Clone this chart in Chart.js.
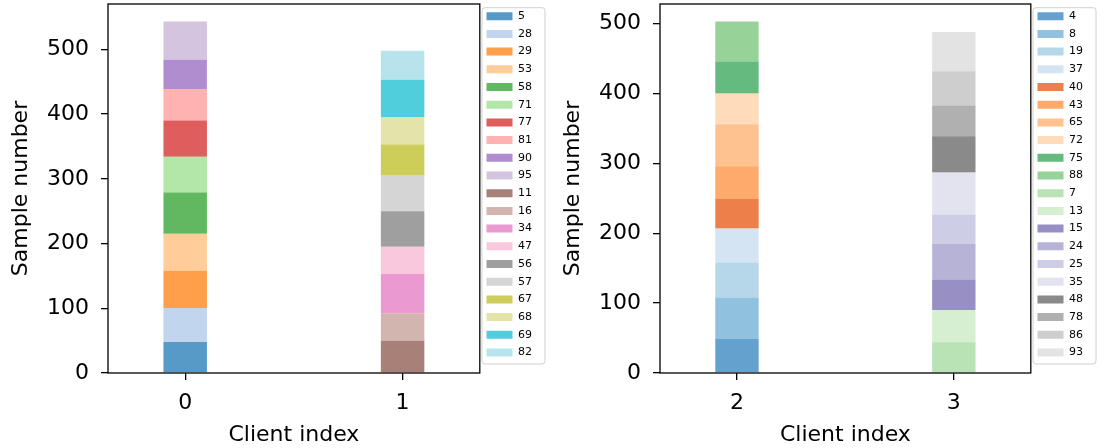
<!DOCTYPE html>
<html>
<head>
<meta charset="utf-8">
<script src="https://cdn.jsdelivr.net/npm/chart.js@4/dist/chart.umd.min.js"></script>
<style>
  body { margin: 0; background: #fff; }
  canvas { position: absolute; top: 0; }
  #left { left: 0; }
  #right { left: 550px; }
</style>
</head>
<body>
<canvas id="left" width="550" height="448"></canvas>
<canvas id="right" width="551" height="448"></canvas>
<script>
// samples per class, one pair of arrays per client
const client0Classes = ['5', '28', '29', '53', '58', '71', '77', '81', '90', '95'];
const client0Counts = [48, 52, 58, 57, 64, 55, 56, 49, 45, 59];
const client1Classes = ['11', '16', '34', '47', '56', '57', '67', '68', '69', '82'];
const client1Counts = [50, 42, 61, 42, 55, 55, 48, 42, 58, 45];
const client2Classes = ['4', '8', '19', '37', '40', '43', '65', '72', '75', '88'];
const client2Counts = [49, 59, 50, 49, 42, 47, 60, 44, 46, 57];
const client3Classes = ['7', '13', '15', '24', '25', '35', '48', '78', '86', '93'];
const client3Counts = [44, 46, 44, 51, 42, 60, 52, 44, 49, 56];
const yTicks = [0, 100, 200, 300, 400, 500];

// matplotlib tab20 / tab20c
const tab20 = ['#1f77b4', '#aec7e8', '#ff7f0e', '#ffbb78', '#2ca02c', '#98df8a', '#d62728', '#ff9896',
    '#9467bd', '#c5b0d5', '#8c564b', '#c49c94', '#e377c2', '#f7b6d2', '#7f7f7f', '#c7c7c7',
    '#bcbd22', '#dbdb8d', '#17becf', '#9edae5'];
const tab20c = ['#3182bd', '#6baed6', '#9ecae1', '#c6dbef', '#e6550d', '#fd8d3c', '#fdae6b', '#fdd0a2',
    '#31a354', '#74c476', '#a1d99b', '#c7e9c0', '#756bb1', '#9e9ac8', '#bcbddc', '#dadaeb',
    '#636363', '#969696', '#bdbdbd', '#d9d9d9'];

Chart.defaults.font.family = "'DejaVu Sans', sans-serif";
Chart.defaults.color = '#000';

function rgba(hex, a) {
    const n = parseInt(hex.slice(1), 16);
    return 'rgba(' + (n >> 16) + ',' + ((n >> 8) & 255) + ',' + (n & 255) + ',' + a + ')';
}

function sum(arr) {
    return arr.reduce((a, b) => a + b, 0);
}

// box around the plot area + legend frame
const framePlugin = {
    id: 'frame',
    afterDatasetsDraw(chart) {
        const a = chart.chartArea, ctx = chart.ctx;
        ctx.save();
        ctx.strokeStyle = '#000';
        ctx.lineWidth = 1.3;
        ctx.strokeRect(a.left, a.top, a.right - a.left, a.bottom - a.top);
        ctx.restore();
    },
    afterDraw(chart) {
        const hb = chart.legend.legendHitBoxes;
        if (!hb || !hb.length) return;
        const ctx = chart.ctx;
        const x0 = hb[0].left - 4.5;
        const y0 = hb[0].top - 3;
        const y1 = hb[hb.length - 1].top + hb[hb.length - 1].height + 6;
        ctx.save();
        ctx.strokeStyle = '#d0d0d0';
        ctx.lineWidth = 1;
        ctx.beginPath();
        ctx.roundRect(x0, y0, 63, y1 - y0, 3);
        ctx.stroke();
        ctx.restore();
    }
};

function makeChart(id, clients, classSets, countSets, palette, cfg) {
    const datasets = [];
    clients.forEach((c, i) => {
        classSets[i].forEach((cls, j) => {
            const col = rgba(palette[datasets.length], 0.75);
            datasets.push({
                label: cls,
                data: [{x: c, y: countSets[i][j]}],
                backgroundColor: col,
                borderWidth: 0,
            });
        });
    });
    const yMax = Math.max(...countSets.map(sum)) * 1.05;

    return new Chart(document.getElementById(id), {
        type: 'bar',
        data: { datasets: datasets },
        options: {
            responsive: false,
            animation: false,
            layout: { padding: { left: 0, top: 4, right: cfg.padRight, bottom: 0 } },
            datasets: { bar: { barPercentage: 0.2, categoryPercentage: 1 } },
            scales: {
                x: {
                    type: 'linear',
                    stacked: true,
                    offset: false,
                    min: clients[0] - 0.355,
                    max: clients[clients.length - 1] + 0.355,
                    afterBuildTicks: s => { s.ticks = clients.map(v => ({ value: v })); },
                    afterFit: s => { s.height = 75; s.paddingLeft = 0; s.paddingRight = 0; },
                    border: { display: false },
                    grid: { offset: false, drawOnChartArea: false, color: '#000', tickLength: 7, lineWidth: 1.3 },
                    ticks: { font: { size: 22 }, padding: 10, autoSkip: false, maxRotation: 0, callback: v => String(v) },
                    title: { display: true, text: 'Client index', font: { size: 22 }, padding: { top: 0, bottom: 0 } },
                },
                y: {
                    stacked: true,
                    min: 0,
                    max: yMax,
                    afterBuildTicks: s => { s.ticks = yTicks.map(v => ({ value: v })); },
                    afterFit: s => { s.width = cfg.yWidth; s.paddingTop = 0; s.paddingBottom = 0; },
                    border: { display: false },
                    grid: { drawOnChartArea: false, color: '#000', tickLength: 7, lineWidth: 1.3 },
                    ticks: { font: { size: 22 }, padding: 12, callback: v => String(v) },
                    title: { display: true, text: 'Sample number', font: { size: 22 }, padding: { top: cfg.titlePad, bottom: 0 } },
                },
            },
            plugins: {
                legend: {
                    position: 'right',
                    align: 'start',
                    labels: { boxWidth: 26, boxHeight: 8, padding: 6.7, font: { size: 11 } },
                },
                tooltip: { enabled: false },
            },
        },
        plugins: [framePlugin],
    });
}

makeChart('left', [0, 1], [client0Classes, client1Classes], [client0Counts, client1Counts], tab20,
    { padRight: 8, yWidth: 108, titlePad: 8.5 });
makeChart('right', [2, 3], [client2Classes, client3Classes], [client2Counts, client3Counts], tab20c,
    { padRight: 8, yWidth: 110, titlePad: 9.8 });
</script>
</body>
</html>
